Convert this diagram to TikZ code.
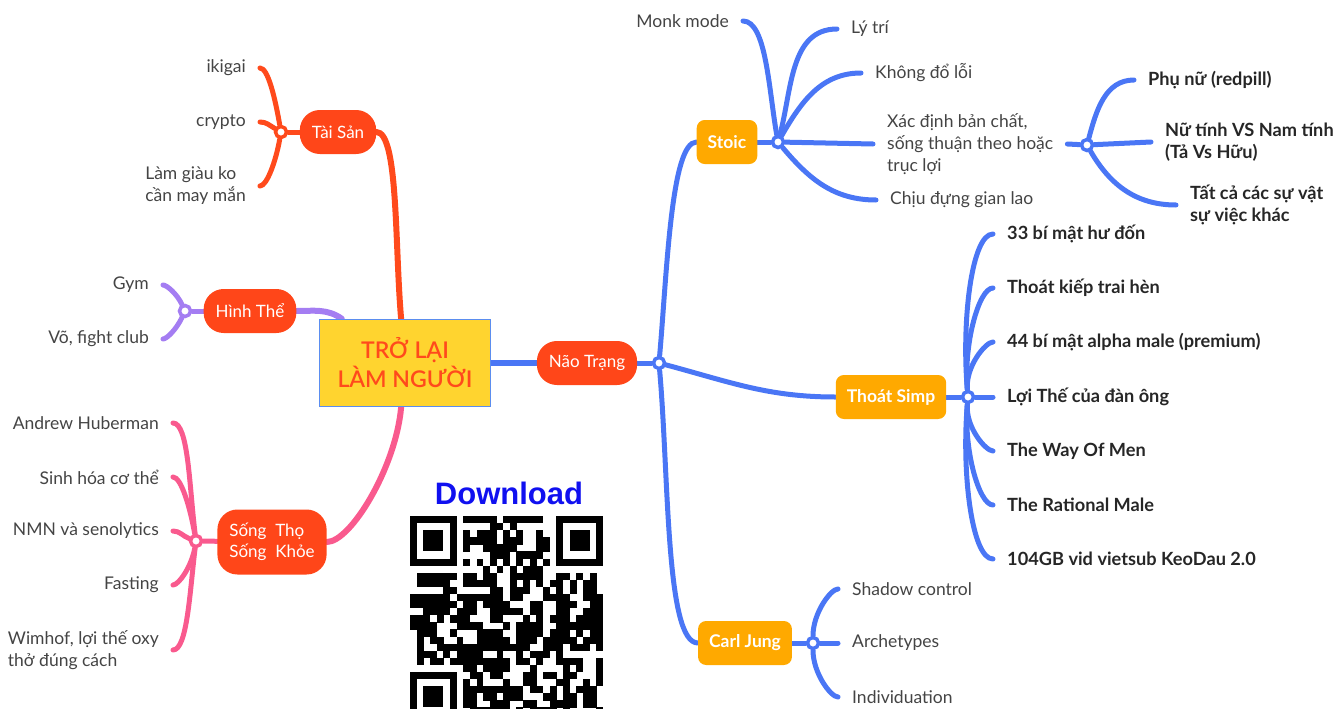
\documentclass[tikz,border=0pt]{standalone}
\usepackage{fontspec}
\setmainfont{Lato}
\IfFontExistsTF{Lato Semibold}{\newfontfamily\rootfont{Lato Semibold}}{\newfontfamily\rootfont{Lato Bold}}
\newfontfamily\dlfont{Liberation Sans}
\usetikzlibrary{backgrounds}

\definecolor{mainred}{HTML}{FF4619}
\definecolor{taired}{HTML}{FF4A1C}
\definecolor{hinhviolet}{HTML}{A47DF2}
\definecolor{songpink}{HTML}{F95A8E}
\definecolor{naoblue}{HTML}{4A76F5}
\definecolor{subgold}{HTML}{FFA900}
\definecolor{rootfill}{HTML}{FFD42F}
\definecolor{rootedge}{HTML}{5B8DEF}
\definecolor{roottext}{HTML}{FF4A1C}
\definecolor{leafgrey}{HTML}{444444}
\definecolor{leafdark}{HTML}{262626}
\definecolor{dlblue}{HTML}{1010F0}

\begin{document}
\begin{tikzpicture}[x=1pt,y=1pt,
    rootbox/.style={rectangle,draw=rootedge,line width=1.5pt,fill=rootfill,minimum width=171pt,minimum height=87pt,align=center,text=roottext,font=\rootfont\fontsize{23}{29}\selectfont},
    mainpill/.style={rectangle,rounded corners=20pt,fill=mainred,text=white,minimum height=44pt,inner xsep=12pt,align=left,font=\fontsize{17}{21}\selectfont},
    subbox/.style={rectangle,rounded corners=8pt,fill=subgold,text=white,minimum height=44pt,inner xsep=11pt,font=\bfseries\fontsize{17.5}{21}\selectfont},
    junc/.style={circle,draw=#1,fill=white,line width=3.5pt,minimum size=11pt,inner sep=0pt},
    leafL/.style={anchor=east,inner xsep=14pt,align=left,text=leafgrey,font=\fontsize{17.5}{22}\selectfont},
    leafR/.style={anchor=west,inner xsep=14pt,align=left,text=leafgrey,font=\fontsize{17.5}{22}\selectfont},
    boldR/.style={leafR,text=leafdark,font=\bfseries\fontsize{18.2}{22}\selectfont},
    link/.style={draw=#1,line width=5pt,line cap=round},
    mainlink/.style={draw=#1,line width=6pt,line cap=round},
    brace/.style={out looseness=1.1,in looseness=0.35}]

\useasboundingbox (0,0) rectangle (1333,-709);

% centre and main branches
\node[rootbox] (root) at (405,-363) {TRỞ LẠI\\LÀM NGƯỜI};
\node[mainpill] (taisan) at (338,-132) {Tài Sản};
\node[mainpill] (hinhthe) at (250,-311) {Hình Thể};
\node[mainpill,minimum height=65pt] (songtho) at (272,-542) {Sống~ Thọ\\Sống~ Khỏe};
\node[mainpill] (naotrang) at (587,-363) {Não Trạng};
\node[subbox] (stoic) at (727,-142) {Stoic};
\node[subbox] (simp) at (891,-397) {Thoát Simp};
\node[subbox] (jung) at (745,-643) {Carl Jung};

% junctions
\node[junc=taired] (jtai) at (281,-132) {};
\node[junc=hinhviolet] (jhinh) at (185,-311) {};
\node[junc=songpink] (jsong) at (196,-541) {};
\node[junc=naoblue] (jnao) at (659,-363) {};
\node[junc=naoblue] (jstoic) at (778,-142) {};
\node[junc=naoblue] (jxac) at (1087,-145) {};
\node[junc=naoblue] (jsimp) at (968,-397) {};
\node[junc=naoblue] (jjung) at (813,-643) {};

% left leaves
\node[leafL] (ikigai) at (260,-68) {ikigai};
\node[leafL] (crypto) at (260,-122) {crypto};
\node[leafL] (lamgiau) at (260,-186) {Làm giàu ko\\cần may mắn};
\node[leafL] (gym) at (163,-285) {Gym};
\node[leafL] (vo) at (163,-339) {Võ, fight club};
\node[leafL] (huberman) at (173,-423) {Andrew Huberman};
\node[leafL] (sinhhoa) at (173,-477) {Sinh hóa cơ thể};
\node[leafL] (nmn) at (173,-531) {NMN và senolytics};
\node[leafL] (fasting) at (173,-585) {Fasting};
\node[leafL] (wimhof) at (173,-650) {Wimhof, lợi thế oxy\\thở đúng cách};

% Stoic leaves
\node[leafL] (monk) at (743,-21) {Monk mode};
\node[leafR] (lytri) at (837,-29) {Lý trí};
\node[leafR] (khongdo) at (861,-73) {Không đổ lỗi};
\node[leafR] (xacdinh) at (873,-144) {Xác định bản chất,\\sống thuận theo hoặc\\trục lợi};
\node[leafR] (chiudung) at (876,-200) {Chịu đựng gian lao};
\node[boldR] (phunu) at (1134,-80) {Phụ nữ (redpill)};
\node[boldR] (nutinh) at (1151,-142) {Nữ tính VS Nam tính\\(Tả Vs Hữu)};
\node[boldR] (tatca) at (1176,-205) {Tất cả các sự vật\\sự việc khác};

% Thoat Simp leaves
\node[boldR] (simpa) at (993,-234) {33 bí mật hư đốn};
\node[boldR] (simpb) at (993,-288) {Thoát kiếp trai hèn};
\node[boldR] (simpc) at (993,-342) {44 bí mật alpha male (premium)};
\node[boldR] (simpd) at (993,-397) {Lợi Thế của đàn ông};
\node[boldR] (simpe) at (993,-451) {The Way Of Men};
\node[boldR] (simpf) at (993,-505) {The Rational Male};
\node[boldR] (simpg) at (993,-559) {104GB vid vietsub KeoDau 2.0};

% Carl Jung leaves
\node[leafR] (shadow) at (838,-589) {Shadow control};
\node[leafR] (arche) at (838,-643) {Archetypes};
\node[leafR] (indiv) at (838,-697) {Individuation};

\begin{scope}[on background layer]
\draw[mainlink=taired] (taisan.east) to[out=0,in=95,out looseness=0.3] (root.95);
\draw[mainlink=hinhviolet] (hinhthe.east) to[out=0,in=145] (root.145);
\draw[mainlink=songpink] (songtho.east) to[out=0,in=-95,out looseness=0.4] (root.-95);
\draw[mainlink=naoblue] (root) -- (naotrang);

\draw[link=taired] (taisan) -- (jtai);
\draw[link=taired] (jtai) to[brace,out=100,in=0] (ikigai.east);
\draw[link=taired] (jtai) to[out=150,in=0] (crypto.east);
\draw[link=taired] (jtai) to[brace,out=-100,in=0] (lamgiau.east);

\draw[link=hinhviolet] (hinhthe) -- (jhinh);
\draw[link=hinhviolet] (jhinh) to[brace,out=115,in=0] (gym.east);
\draw[link=hinhviolet] (jhinh) to[brace,out=-115,in=0] (vo.east);

\draw[link=songpink] (songtho) -- (jsong);
\draw[link=songpink] (jsong) to[brace,out=97,in=0] (huberman.east);
\draw[link=songpink] (jsong) to[brace,out=100,in=0] (sinhhoa.east);
\draw[link=songpink] (jsong) to[out=160,in=0] (nmn.east);
\draw[link=songpink] (jsong) to[brace,out=-100,in=0] (fasting.east);
\draw[link=songpink] (jsong) to[brace,out=-97,in=0] (wimhof.east);

\draw[link=naoblue] (naotrang) -- (jnao);
\draw[link=naoblue] (jnao) to[out=85,in=180,in looseness=0.3] (stoic.west);
\draw[link=naoblue] (jnao) to[out=-15,in=180] (simp.west);
\draw[link=naoblue] (jnao) to[out=-85,in=180,in looseness=0.3] (jung.west);

\draw[link=naoblue] (stoic) -- (jstoic);
\draw[link=naoblue] (jstoic) to[out=100,in=0,in looseness=0.5] (monk.east);
\draw[link=naoblue] (jstoic) to[out=75,in=180] (lytri.west);
\draw[link=naoblue] (jstoic) to[out=60,in=180] (khongdo.west);
\draw[link=naoblue] (jstoic) -- (xacdinh.west);
\draw[link=naoblue] (jstoic) to[out=-50,in=180] (chiudung.west);

\draw[link=naoblue] (xacdinh.east) -- (jxac);
\draw[link=naoblue] (jxac) to[out=75,in=180] (phunu.west);
\draw[link=naoblue] (jxac) -- (nutinh.west);
\draw[link=naoblue] (jxac) to[out=-60,in=180] (tatca.west);

\draw[link=naoblue] (simp) -- (jsimp);
\foreach \leaf in {simpa,simpb,simpc}
  \draw[link=naoblue] (jsimp) to[brace,out=95,in=180] (\leaf.west);
\draw[link=naoblue] (jsimp) -- (simpd.west);
\foreach \leaf in {simpe,simpf,simpg}
  \draw[link=naoblue] (jsimp) to[brace,out=-95,in=180] (\leaf.west);

\draw[link=naoblue] (jung) -- (jjung);
\draw[link=naoblue] (jjung) to[brace,out=90,in=180] (shadow.west);
\draw[link=naoblue] (jjung) -- (arche.west);
\draw[link=naoblue] (jjung) to[brace,out=-90,in=180] (indiv.west);
\end{scope}

% download code
\node[text=dlblue,font=\dlfont\bfseries\fontsize{31}{35}\selectfont] (download) at (509,-493) {Download};
\begin{scope}
\clip (405,-516) rectangle (610,-709);
\foreach \i in {0,...,28}{
  \foreach \j in {0,...,28}{
    \pgfmathtruncatemacro\qrzone{((\i<8)&&(\j<8))||((\i>20)&&(\j<8))||((\i<8)&&(\j>20))}
    \pgfmathtruncatemacro\qrdark{mod(floor(abs(sin(\i*\i*3.7+\j*57.7+\i*\j*5.3+\j*\j*2.9))*9973),7)<4}
    \ifnum\i=6 \pgfmathtruncatemacro\qrdark{1-mod(\j,2)}\fi
    \ifnum\j=6 \pgfmathtruncatemacro\qrdark{1-mod(\i,2)}\fi
    \ifnum\qrzone=0 \ifnum\qrdark=1
      \fill ({410+\i*6.655},{-516-\j*7.09}) rectangle ++(6.9,-7.3);
    \fi\fi
  }
}
\foreach \fx/\fy in {0/0,22/0,0/22}{
  \fill ({410+\fx*6.655},{-516-\fy*7.09}) rectangle ++({7*6.655},{-7*7.09});
  \fill[white] ({410+(\fx+1)*6.655},{-516-(\fy+1)*7.09}) rectangle ++({5*6.655},{-5*7.09});
  \fill ({410+(\fx+2)*6.655},{-516-(\fy+2)*7.09}) rectangle ++({3*6.655},{-3*7.09});
}
\end{scope}
\end{tikzpicture}
\end{document}
